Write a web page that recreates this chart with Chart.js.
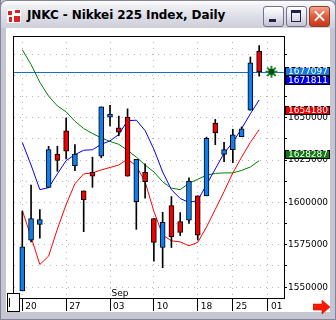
<!DOCTYPE html>
<html>
<head>
<meta charset="utf-8">
<title>JNKC - Nikkei 225 Index, Daily</title>
<script src="https://cdn.jsdelivr.net/npm/chart.js@4.4.1/dist/chart.umd.min.js"></script>
<style>
  html, body { margin: 0; padding: 0; background: #fff; }
  #win { position: absolute; left: 0; top: 0; width: 336px; height: 320px; overflow: hidden;
         background: #c6c6d2; box-shadow: inset 1px 0 #84849a, inset -1px 0 #84849a, inset 0 -1px #84849a; }
  #title { position: absolute; left: 0; top: 0; width: 334px; height: 27px; border: 1px solid #84849a; border-bottom: 0;
           border-radius: 7px 7px 0 0; background: linear-gradient(#ffffff 0, #eeeef4 20%, #dcdce6 60%, #cfcfdb 100%); }
  #ttext { position: absolute; left: 26px; top: 7px; font: bold 12px "DejaVu Sans"; color: #000; white-space: nowrap; letter-spacing: -0.1px; }
  #icon { position: absolute; left: 6px; top: 8px; width: 14px; height: 14px; background:
          linear-gradient(#e02020, #e02020) 1px 2px / 4px 4px no-repeat,
          linear-gradient(#e02020, #e02020) 8px 1px / 5px 3px no-repeat,
          linear-gradient(#e02020, #e02020) 2px 8px / 3px 5px no-repeat,
          linear-gradient(#e02020, #e02020) 7px 7px / 6px 6px no-repeat, #fff; }
  .btn { position: absolute; top: 5px; width: 19px; height: 19px; border: 1px solid #72728e; border-radius: 3px;
         background: linear-gradient(#ffffff, #e8e8f0 45%, #c2c2d2); }
  #bmin { left: 262px; } #bmax { left: 285px; }
  #bcls { left: 308px; border-color: #8a4030; background: linear-gradient(#f4a890, #e4603c 45%, #c8361a); }
  #bmin i { position: absolute; left: 5px; top: 12px; width: 7px; height: 3px; background: #20204a; }
  #bmax i { position: absolute; left: 4px; top: 3px; width: 8px; height: 8px; border: 1px solid #20204a; border-top-width: 3px; }
  #bcls i, #bcls b { position: absolute; left: 3px; top: 8px; width: 13px; height: 2px; background: #fff; transform: rotate(45deg); }
  #bcls b { transform: rotate(-45deg); }
  #content { position: absolute; left: 6px; top: 28px; width: 324px; height: 284px; background: #fff; }
  #c { position: absolute; left: 0; top: 0; }
  #thumb { position: absolute; left: 1px; top: 265px; width: 11px; height: 17px; border: 1px solid #000; background: #fff; }
  #thumb i { position: absolute; left: 1px; top: 4px; width: 1px; height: 9px; background: #000; }
  #arrow { position: absolute; left: 307px; top: 272px; }
</style>
</head>
<body>
<div id="win">
  <div id="title"><div id="icon"></div><div id="ttext">JNKC - Nikkei 225 Index, Daily</div>
    <div class="btn" id="bmin"><i></i></div><div class="btn" id="bmax"><i></i></div><div class="btn" id="bcls"><i></i><b></b></div>
  </div>
  <div id="content">
    <canvas id="c" width="324" height="284"></canvas>
    <div id="thumb"><i></i></div>
    <svg id="arrow" width="18" height="14"><polygon points="0,4 9,4 9,0 17,7 9,14 9,10 0,10" fill="#ff1800" stroke="#c01000" stroke-width="0.6"/></svg>
  </div>
</div>
<script>
// daily bars, Aug 20 - Sep 28
const dates = ['08/20','08/21','08/22','08/23','08/24','08/27','08/28','08/29','08/30','08/31',
               '09/03','09/04','09/05','09/06','09/07','09/10','09/11','09/12','09/13','09/14',
               '09/18','09/19','09/20','09/21','09/25','09/26','09/27','09/28'];
const opens  = [1547850,1577730,1587040,1608900,1628490,1642270,1621510,1606800,1617850,1627330,
                1650410,1644010,1650410,1600410,1617850,1590520,1573430,1598080,1588780,1589540,
                1603900,1603900,1646920,1628310,1631220,1638780,1654480,1689360];
const highs  = [1594770,1610290,1595760,1633140,1633140,1650000,1634130,1606800,1626740,1656400,
                1657380,1650990,1655230,1625410,1622850,1590520,1594190,1603490,1594010,1614540,
                1603900,1638550,1649010,1635470,1643200,1644590,1685870,1692620];
const lows   = [1547850,1576740,1578900,1608720,1618430,1625760,1618780,1582730,1608900,1626340,
                1645170,1639360,1615520,1584130,1602500,1565290,1561450,1573430,1580410,1587620,
                1577910,1603900,1634130,1624010,1623430,1638780,1654480,1674590];
const closes = [1573840,1590520,1589940,1631220,1624830,1630230,1628490,1601570,1615520,1656400,
                1652150,1641450,1615520,1625410,1612210,1576340,1588200,1579830,1582380,1612620,
                1580640,1637790,1641110,1631220,1639940,1643430,1682380,1677097];
const maBlue  = [1635470,1622090,1607560,1608720,1616860,1624710,1628200,1630810,1631110,1634300,
                 1636340,1640120,1648260,1648550,1642440,1631400,1618020,1607560,1602330,1600000,
                 1601160,1610470,1619770,1629070,1635470,1643610,1652330,1660470];
const maRed   = [1595350,1579650,1563370,1568310,1584300,1598840,1611050,1616860,1617440,1619190,
                 1620640,1622090,1625580,1621510,1612210,1594770,1580810,1577330,1576740,1574420,
                 1576450,1585470,1595930,1606400,1617440,1626740,1635470,1643020];
const maGreen = [1690120,1681400,1670930,1662790,1656980,1653490,1647970,1643610,1640700,1638080,
                 1636050,1634300,1630810,1626740,1622090,1618020,1612210,1608430,1607560,1611340,
                 1613660,1616110,1617150,1617440,1617440,1618900,1620930,1624710];

const xTickIdx    = [0, 5, 10, 15, 20, 24, 28];
const xTickLabels = ['20', '27', '03', '10', '18', '25', '01'];
const monthIdx = 10, monthLabel = 'Sep';

const yTicks = [1550000, 1562500, 1575000, 1587500, 1600000, 1612500, 1625000, 1637500,
                1650000, 1662500, 1675000, 1687500];
const yLabelStep = 25000;

const lastPrice = 1677097;
const markerValues = [1677097, 1671811, 1654180, 1628287];
const markerColors = ['#1478e6', '#0000e6', '#e60000', '#117a11'];

const yMin = 1543600, yMax = 1698250;
const xMin = -1 + 0.5 / 9, xMax = xMin + 277 / 9;

const UP = '#0f7ff0', DOWN = '#ee0000';
const FONT = { family: 'DejaVu Sans', size: 9 };

const decor = {
  id: 'decor',
  beforeDatasetsDraw(chart) {
    const { ctx, chartArea: a, scales: { y } } = chart;
    const py = Math.round(y.getPixelForValue(lastPrice)) + 0.5;
    ctx.save();
    ctx.strokeStyle = '#166cd0'; ctx.lineWidth = 1;
    ctx.beginPath(); ctx.moveTo(a.left, py); ctx.lineTo(a.right, py); ctx.stroke();
    ctx.restore();
  },
  afterDraw(chart) {
    const { ctx, chartArea: a, scales: { x, y } } = chart;
    ctx.save();
    ctx.strokeStyle = '#000'; ctx.lineWidth = 1;
    ctx.strokeRect(a.left - 0.5, a.top + 0.5, a.right - a.left + 1, a.bottom - a.top);

    ctx.font = '9px "DejaVu Sans"'; ctx.fillStyle = '#000';
    ctx.textAlign = 'left'; ctx.textBaseline = 'alphabetic';
    ctx.fillText(monthLabel, x.getPixelForValue(monthIdx) + 1.5, a.bottom - 2);

    // value boxes on the price axis
    ctx.textAlign = 'center'; ctx.textBaseline = 'middle';
    markerValues.forEach((v, i) => {
      const top = Math.round(y.getPixelForValue(v)) - 5;
      ctx.fillStyle = markerColors[i];
      ctx.fillRect(a.right + 1, top, 45, 9);
      ctx.strokeStyle = '#000';
      ctx.strokeRect(a.right + 1.5, top + 0.5, 44, 8);
      ctx.fillStyle = '#fff';
      ctx.fillText(String(v), a.right + 24, top + 4.5);
    });
    ctx.restore();
  }
};

const bodies = closes.map((c, i) => ({ x: i, y: [opens[i], c] }));
const wicks = closes.map((c, i) => ({ x: i, y: [lows[i], highs[i]] }));
const line = (vals) => vals.map((v, i) => ({ x: i, y: v }));

new Chart(document.getElementById('c'), {
  type: 'bar',
  data: {
    datasets: [
      { type: 'line', data: [{ x: dates.length + 0.4, y: lastPrice }], showLine: false, order: -1,
        pointStyle: 'star', pointRadius: 6, pointBorderColor: '#1f8a2f', pointBorderWidth: 2, pointBackgroundColor: '#0b5a1a' },
      { type: 'line', data: [{ x: dates.length + 0.4, y: lastPrice }], showLine: false, order: -2,
        pointStyle: 'circle', pointRadius: 3, pointBorderWidth: 0, pointBackgroundColor: '#0a4a14' },
      { data: bodies, order: 1, grouped: false, barThickness: 5, maxBarThickness: 5,
        backgroundColor: closes.map((c, i) => c >= opens[i] ? UP : DOWN),
        borderColor: '#000', borderWidth: 1, borderSkipped: false },
      { data: wicks, order: 2, grouped: false, barThickness: 1, maxBarThickness: 1,
        backgroundColor: '#000', borderWidth: 0 },
      { type: 'line', data: line(maBlue), order: 3, borderColor: '#0000ff', borderWidth: 1, pointRadius: 0, tension: 0 },
      { type: 'line', data: line(maRed), order: 4, borderColor: '#ff0000', borderWidth: 1, pointRadius: 0, tension: 0 },
      { type: 'line', data: line(maGreen), order: 5, borderColor: '#008000', borderWidth: 1, pointRadius: 0, tension: 0 }
    ]
  },
  options: {
    responsive: false,
    animation: false,
    layout: { padding: { left: 1, top: 4, right: 0, bottom: 0 } },
    plugins: { legend: { display: false }, tooltip: { enabled: false } },
    scales: {
      x: {
        type: 'linear', min: xMin, max: xMax, offset: false,
        afterBuildTicks: s => { s.ticks = xTickIdx.map(v => ({ value: v })); },
        afterFit: s => { s.height = 14; },
        ticks: { callback: v => { const k = xTickIdx.indexOf(v); return k < 0 ? '' : xTickLabels[k]; },
                 align: 'start', labelOffset: 3, padding: -10, maxRotation: 0, autoSkip: false,
                 font: FONT, color: '#000' },
        grid: { offset: false, color: '#b4b4b4', tickColor: '#000', tickLength: 13, tickBorderDash: [] },
        border: { display: false, dash: [1, 5] }
      },
      y: {
        type: 'linear', position: 'right', min: yMin, max: yMax,
        afterBuildTicks: s => { s.ticks = yTicks.map(v => ({ value: v })); },
        afterFit: s => { s.width = 46; },
        ticks: { autoSkip: false, padding: 1, font: FONT, color: '#000',
                 callback: v => v % yLabelStep === 0 ? String(v) : '' },
        grid: { color: '#b4b4b4', tickColor: '#000', tickLength: 3, tickBorderDash: [] },
        border: { display: false, dash: [1, 5] }
      }
    }
  },
  plugins: [decor]
});
</script>
</body>
</html>
